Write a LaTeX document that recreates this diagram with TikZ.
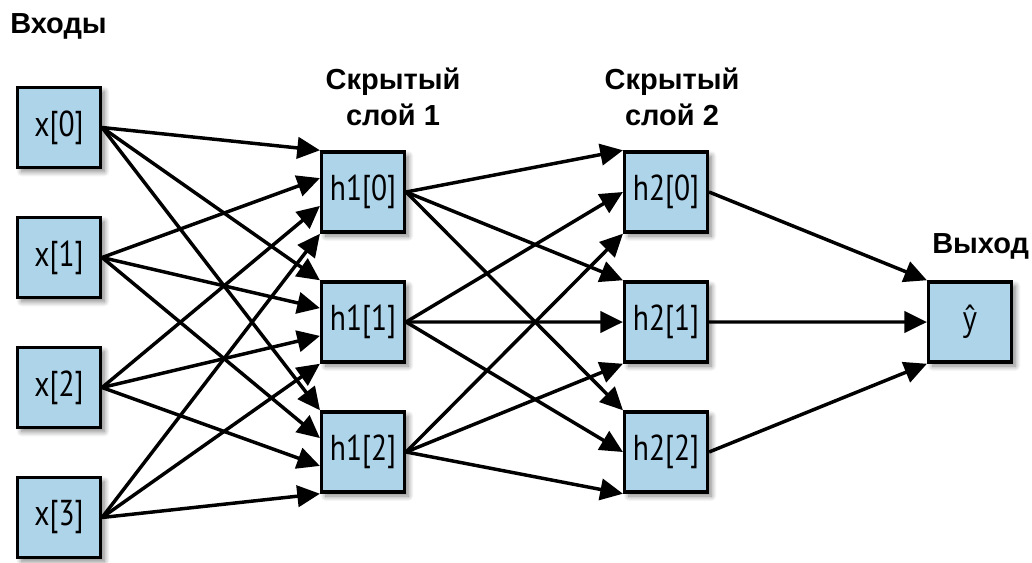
\documentclass[tikz,border=0pt]{standalone}
\usepackage{fontspec}
\setmainfont{Liberation Sans}
\newfontfamily\boxfont{PT Sans}
\newfontfamily\yfont{Open Sans}
\usetikzlibrary{arrows.meta,calc,shadows.blur}
\definecolor{boxblue}{RGB}{174,212,234}
\newcommand\boxlbl[1]{\scalebox{0.82}[1]{#1}}
\begin{document}
\begin{tikzpicture}[x=0.75pt,y=-0.75pt,
  nn/.style={draw, line width=2.6pt, fill=boxblue, minimum width=62pt, minimum height=60pt, inner sep=0pt,
    blur shadow={shadow xshift=3pt, shadow yshift=-3pt, shadow blur steps=10, shadow blur radius=4pt, shadow opacity=50},
    font=\boxfont\fontsize{27}{30}\selectfont},
  conn/.style={line width=2.6pt, -{Triangle[length=17pt,width=16pt]}},
  ttl/.style={font=\bfseries\fontsize{21.75}{27}\selectfont, inner sep=0pt, align=center}]
\useasboundingbox (0,0) rectangle (1032,562);
% input layer
\node[nn] (x0) at (59,127.5) {\boxlbl{x[0]}};
\node[nn] (x1) at (59,257.5) {\boxlbl{x[1]}};
\node[nn] (x2) at (59,387.5) {\boxlbl{x[2]}};
\node[nn] (x3) at (59,517.5) {\boxlbl{x[3]}};
% hidden layer 1
\node[nn] (a0) at (363,192) {\boxlbl{h1[0]}};
\node[nn] (a1) at (363,322) {\boxlbl{h1[1]}};
\node[nn] (a2) at (363,452) {\boxlbl{h1[2]}};
% hidden layer 2
\node[nn] (b0) at (666,192) {\boxlbl{h2[0]}};
\node[nn] (b1) at (666,322) {\boxlbl{h2[1]}};
\node[nn] (b2) at (666,452) {\boxlbl{h2[2]}};
% output
\node[nn] (y) at (970,322) {\boxlbl{\yfont\fontsize{25}{30}\selectfont ŷ}};
% titles
\node[ttl, anchor=base west] (tin) at (10,33) {Входы};
\node[ttl, anchor=north] (t1) at (393,68) {Скрытый\\слой 1};
\node[ttl, anchor=north] (t2) at (672,68) {Скрытый\\слой 2};
\node[ttl, anchor=base west] (tout) at (932,253) {Выход};
% connections
\foreach \i in {0,...,3}
  \foreach \j in {0,1,2}
    \draw[conn] (x\i.east) -- ($(a\j.north west)!\i/3!(a\j.south west)$);
\foreach \i in {0,1,2}
  \foreach \j in {0,1,2}
    \draw[conn] (a\i.east) -- ($(b\j.north west)!\i/2!(b\j.south west)$);
\foreach \i in {0,1,2}
  \draw[conn] (b\i.east) -- ($(y.north west)!\i/2!(y.south west)$);
\end{tikzpicture}
\end{document}
